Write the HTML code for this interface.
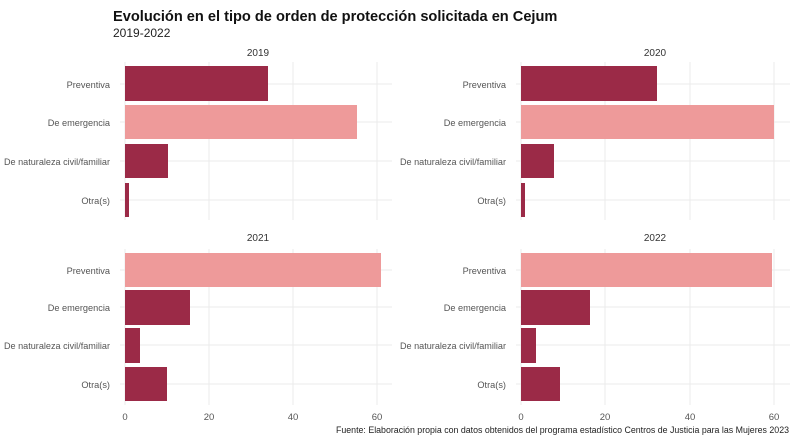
<!DOCTYPE html>
<html><head><meta charset="utf-8"><style>body{margin:0;background:#fff}svg{display:block}text{font-family:"Liberation Sans",Arial,sans-serif}</style></head>
<body>
<svg width="800" height="441" xmlns="http://www.w3.org/2000/svg">
<text x="113" y="21" font-size="14.6" font-weight="bold" fill="#111">Evolución en el tipo de orden de protección solicitada en Cejum</text>
<text x="113" y="37" font-size="12" fill="#222">2019-2022</text>
<g stroke="#ebebeb" stroke-width="1">
<line x1="125" y1="62" x2="125" y2="220"/><line x1="209" y1="62" x2="209" y2="220"/><line x1="293" y1="62" x2="293" y2="220"/><line x1="377" y1="62" x2="377" y2="220"/>
<line x1="125" y1="249" x2="125" y2="405"/><line x1="209" y1="249" x2="209" y2="405"/><line x1="293" y1="249" x2="293" y2="405"/><line x1="377" y1="249" x2="377" y2="405"/>
<line x1="521" y1="62" x2="521" y2="220"/><line x1="605" y1="62" x2="605" y2="220"/><line x1="690" y1="62" x2="690" y2="220"/><line x1="774" y1="62" x2="774" y2="220"/>
<line x1="521" y1="249" x2="521" y2="405"/><line x1="605" y1="249" x2="605" y2="405"/><line x1="690" y1="249" x2="690" y2="405"/><line x1="774" y1="249" x2="774" y2="405"/>
<line x1="120" y1="84" x2="392" y2="84"/><line x1="120" y1="122" x2="392" y2="122"/><line x1="120" y1="161" x2="392" y2="161"/><line x1="120" y1="200" x2="392" y2="200"/>
<line x1="516" y1="84" x2="790" y2="84"/><line x1="516" y1="122" x2="790" y2="122"/><line x1="516" y1="161" x2="790" y2="161"/><line x1="516" y1="200" x2="790" y2="200"/>
<line x1="120" y1="270" x2="392" y2="270"/><line x1="120" y1="307" x2="392" y2="307"/><line x1="120" y1="345" x2="392" y2="345"/><line x1="120" y1="384" x2="392" y2="384"/>
<line x1="516" y1="270" x2="790" y2="270"/><line x1="516" y1="307" x2="790" y2="307"/><line x1="516" y1="345" x2="790" y2="345"/><line x1="516" y1="384" x2="790" y2="384"/>
</g>
<g font-size="10" fill="#333" text-anchor="middle">
<text x="258" y="56">2019</text><text x="655" y="56">2020</text><text x="258" y="241">2021</text><text x="655" y="241">2022</text>
</g>
<g font-size="9.2" fill="#555" text-anchor="end">
<text x="110" y="88">Preventiva</text><text x="110" y="126">De emergencia</text><text x="110" y="165" textLength="106" lengthAdjust="spacingAndGlyphs">De naturaleza civil/familiar</text><text x="110" y="204">Otra(s)</text>
<text x="506" y="88">Preventiva</text><text x="506" y="126">De emergencia</text><text x="506" y="165" textLength="106" lengthAdjust="spacingAndGlyphs">De naturaleza civil/familiar</text><text x="506" y="204">Otra(s)</text>
<text x="110" y="274">Preventiva</text><text x="110" y="311">De emergencia</text><text x="110" y="349" textLength="106" lengthAdjust="spacingAndGlyphs">De naturaleza civil/familiar</text><text x="110" y="388">Otra(s)</text>
<text x="506" y="274">Preventiva</text><text x="506" y="311">De emergencia</text><text x="506" y="349" textLength="106" lengthAdjust="spacingAndGlyphs">De naturaleza civil/familiar</text><text x="506" y="388">Otra(s)</text>
</g>
<g>
<rect x="125" y="66" width="143" height="35" fill="#9b2a47"/>
<rect x="125" y="105" width="232" height="34" fill="#ee9a9a"/>
<rect x="125" y="144" width="43" height="34" fill="#9b2a47"/>
<rect x="125" y="183" width="4" height="34" fill="#9b2a47"/>
<rect x="521" y="66" width="136" height="35" fill="#9b2a47"/>
<rect x="521" y="105" width="253" height="34" fill="#ee9a9a"/>
<rect x="521" y="144" width="33" height="34" fill="#9b2a47"/>
<rect x="521" y="183" width="4" height="34" fill="#9b2a47"/>
<rect x="125" y="253" width="256" height="34" fill="#ee9a9a"/>
<rect x="125" y="290" width="65" height="35" fill="#9b2a47"/>
<rect x="125" y="328" width="15" height="35" fill="#9b2a47"/>
<rect x="125" y="367" width="42" height="34" fill="#9b2a47"/>
<rect x="521" y="253" width="251" height="34" fill="#ee9a9a"/>
<rect x="521" y="290" width="69" height="35" fill="#9b2a47"/>
<rect x="521" y="328" width="15" height="35" fill="#9b2a47"/>
<rect x="521" y="367" width="39" height="34" fill="#9b2a47"/>
</g>
<g font-size="9.5" fill="#555" text-anchor="middle">
<text x="125" y="420">0</text><text x="209" y="420">20</text><text x="293" y="420">40</text><text x="377" y="420">60</text>
<text x="521" y="420">0</text><text x="605" y="420">20</text><text x="690" y="420">40</text><text x="774" y="420">60</text>
</g>
<text x="789" y="433" font-size="9" fill="#222" text-anchor="end" textLength="453" lengthAdjust="spacingAndGlyphs">Fuente: Elaboración propia con datos obtenidos del programa estadístico Centros de Justicia para las Mujeres 2023</text>
</svg>
</body></html>
